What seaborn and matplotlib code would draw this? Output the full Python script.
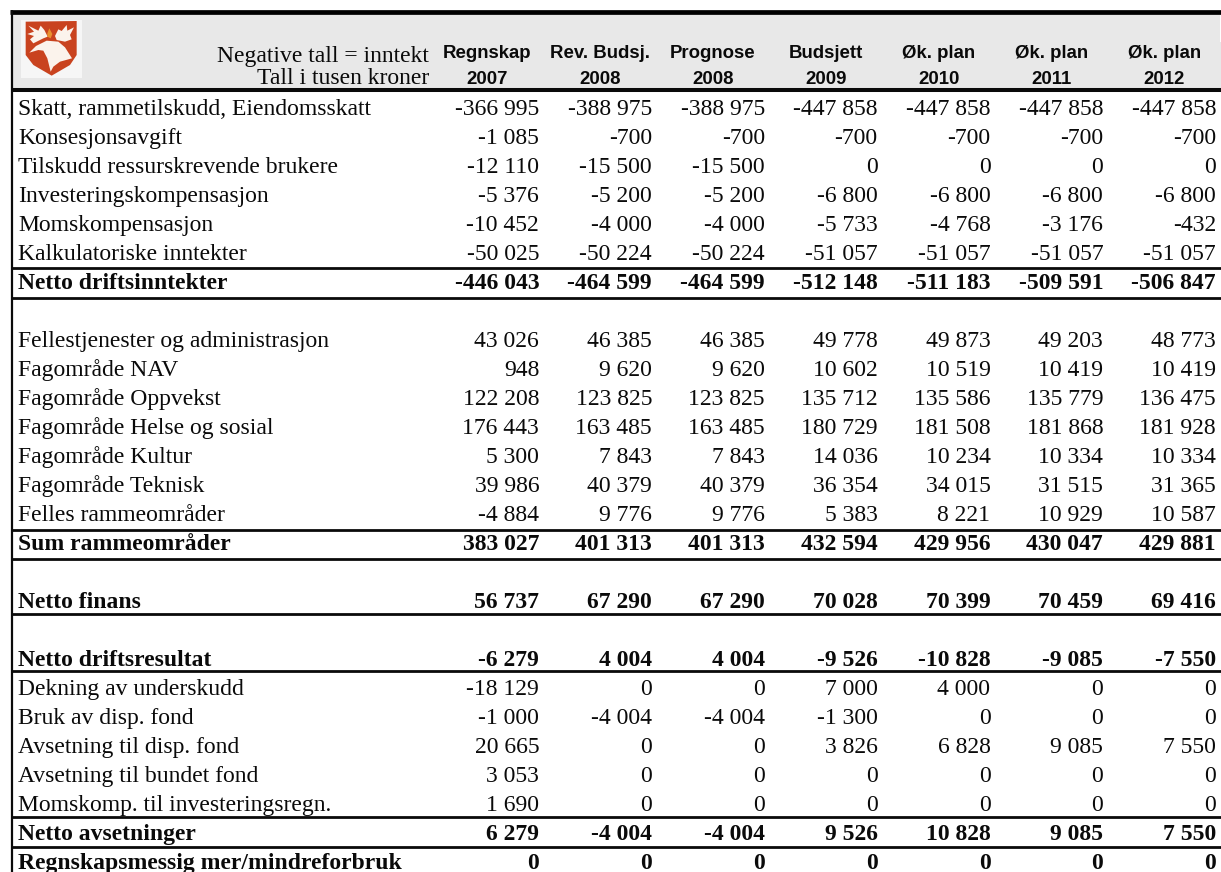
import numpy as np
import pandas as pd
import seaborn as sns
import matplotlib.pyplot as plt
from matplotlib.colors import ListedColormap
from matplotlib.patches import Polygon, Rectangle

# radene i tabellen
row_labels = [
    "Skatt, rammetilskudd, Eiendomsskatt", "Konsesjonsavgift", "Tilskudd ressurskrevende brukere",
    "Investeringskompensasjon", "Momskompensasjon", "Kalkulatoriske inntekter", "Netto driftsinntekter", "",
    "Fellestjenester og administrasjon", "Fagområde NAV", "Fagområde Oppvekst", "Fagområde Helse og sosial",
    "Fagområde Kultur", "Fagområde Teknisk", "Felles rammeområder", "Sum rammeområder", "",
    "Netto finans", "", "Netto driftsresultat", "Dekning av underskudd", "Bruk av disp. fond",
    "Avsetning til disp. fond", "Avsetning til bundet fond", "Momskomp. til investeringsregn.",
    "Netto avsetninger", "Regnskapsmessig mer/mindreforbruk",
]
bold_labels = ["Netto driftsinntekter", "Sum rammeområder", "Netto finans", "Netto driftsresultat",
               "Netto avsetninger", "Regnskapsmessig mer/mindreforbruk"]
col_labels = ["Regnskap\n2007", "Rev. Budsj.\n2008", "Prognose\n2008", "Budsjett\n2009",
              "Øk. plan\n2010", "Øk. plan\n2011", "Øk. plan\n2012"]
header_left = ["Negative tall = inntekt", "Tall i tusen kroner"]

n = np.nan
regnskap_2007 = [-366995, -1085, -12110, -5376, -10452, -50025, -446043, n, 43026, 948, 122208, 176443, 5300, 39986,
                 -4884, 383027, n, 56737, n, -6279, -18129, -1000, 20665, 3053, 1690, 6279, 0]
rev_budsj_2008 = [-388975, -700, -15500, -5200, -4000, -50224, -464599, n, 46385, 9620, 123825, 163485, 7843, 40379,
                  9776, 401313, n, 67290, n, 4004, 0, -4004, 0, 0, 0, -4004, 0]
prognose_2008 = [-388975, -700, -15500, -5200, -4000, -50224, -464599, n, 46385, 9620, 123825, 163485, 7843, 40379,
                 9776, 401313, n, 67290, n, 4004, 0, -4004, 0, 0, 0, -4004, 0]
budsjett_2009 = [-447858, -700, 0, -6800, -5733, -51057, -512148, n, 49778, 10602, 135712, 180729, 14036, 36354,
                 5383, 432594, n, 70028, n, -9526, 7000, -1300, 3826, 0, 0, 9526, 0]
plan_2010 = [-447858, -700, 0, -6800, -4768, -51057, -511183, n, 49873, 10519, 135586, 181508, 10234, 34015,
             8221, 429956, n, 70399, n, -10828, 4000, 0, 6828, 0, 0, 10828, 0]
plan_2011 = [-447858, -700, 0, -6800, -3176, -51057, -509591, n, 49203, 10419, 135779, 181868, 10334, 31515,
             10929, 430047, n, 70459, n, -9085, 0, 0, 9085, 0, 0, 9085, 0]
plan_2012 = [-447858, -700, 0, -6800, -432, -51057, -506847, n, 48773, 10419, 136475, 181928, 10334, 31365,
             10587, 429881, n, 69416, n, -7550, 0, 0, 7550, 0, 0, 7550, 0]

df = pd.DataFrame(list(zip(regnskap_2007, rev_budsj_2008, prognose_2008, budsjett_2009, plan_2010, plan_2011, plan_2012)),
                  index=range(len(row_labels)), columns=col_labels)


def fmt_tall(v):
    if np.isnan(v):
        return ""
    return f"{int(v):,}".replace(",", " ")


annot = df.map(fmt_tall)

sns.set_theme(style="white")
serif = ["Liberation Serif", "DejaVu Serif"]
sans = ["Liberation Sans", "DejaVu Sans"]
W, H = 1221, 872
GREY = "#E8E8E8"
INK = "#0A0A0A"
BODY_SIZE = 17
HEAD_SIZE = 13.4
COL_L, COL_R = 431, 1220.6
ROW_H = 29
BODY_TOP = 92.5
BASE_OFFSET = 0.27  # grunnlinje under radens midte

fig = plt.figure(figsize=(W / 100, H / 100), dpi=100, facecolor="white")


def px_axes(x0, y0, x1, y1, **kw):
    return fig.add_axes([x0 / W, 1 - y1 / H, (x1 - x0) / W, (y1 - y0) / H], **kw)


# bakgrunn i piksler: grå topp og logo
bg = px_axes(0, 0, W, H)
bg.set_xlim(0, W)
bg.set_ylim(H, 0)
bg.axis("off")
bg.add_patch(Rectangle((12, 14), 1208, 75, color=GREY, lw=0))


def logo_pts(pts):
    return [(10 + x / 3, 10 + y / 3) for x, y in pts]


bg.add_patch(Rectangle((21, 20), 61, 58, color="#F6F6F6", lw=0))
bg.add_patch(Polygon(logo_pts([(47, 35), (200, 33), (200, 135), (180, 165), (125, 197), (70, 165), (47, 135)]),
                     color="#C9431F", lw=0))
bg.add_patch(Polygon(logo_pts([(55, 47), (85, 62), (92, 47), (103, 60), (113, 80), (100, 85), (70, 100), (60, 88),
                               (72, 78), (52, 72), (72, 65)]), color="#FBF3EC", lw=0))
bg.add_patch(Polygon(logo_pts([(135, 78), (145, 58), (155, 63), (170, 45), (172, 62), (192, 52), (180, 75), (185, 88),
                               (165, 95), (140, 90)]), color="#FBF3EC", lw=0))
bg.add_patch(Polygon(logo_pts([(58, 128), (78, 108), (110, 92), (145, 95), (165, 112), (186, 145), (150, 155),
                               (130, 170), (122, 185), (112, 145), (100, 122), (85, 120)]),
                     color="#FBF3EC", lw=0))
bg.add_patch(Polygon(logo_pts([(118, 55), (127, 72), (122, 85), (112, 80), (112, 70)]), color="#E8912F", lw=0))

# overskrift
head_ax = px_axes(COL_L, 42, COL_R, 91)
sns.heatmap(pd.DataFrame([[0] * 7], columns=col_labels), ax=head_ax, cmap=ListedColormap([GREY]), cbar=False,
            annot=np.array([col_labels]), fmt="", xticklabels=False, yticklabels=False,
            annot_kws={"fontsize": HEAD_SIZE, "fontweight": "bold", "family": sans, "linespacing": 1.65})
for t in head_ax.texts:
    t.set_color(INK)

# tabellen
body_ax = px_axes(COL_L, BODY_TOP, COL_R, BODY_TOP + ROW_H * len(row_labels))
sns.heatmap(df, ax=body_ax, cmap=ListedColormap(["white"]), cbar=False, annot=annot, fmt="",
            xticklabels=False, yticklabels=False,
            annot_kws={"fontsize": BODY_SIZE, "family": serif})
col_w = (COL_R - COL_L)
for t in body_ax.texts:
    x, y = t.get_position()
    t.set_position((np.floor(x) + 1 - 4.6 / (col_w / 7), y + BASE_OFFSET))
    t.set_ha("right")
    t.set_va("baseline")
    t.set_color(INK)
    if row_labels[int(y)] in bold_labels:
        t.set_fontweight("bold")

label_x = (18 - COL_L) / (col_w / 7)
for i, lab in enumerate(row_labels):
    body_ax.text(label_x, i + 0.5 + BASE_OFFSET, lab, ha="left", va="baseline", fontsize=BODY_SIZE, family=serif,
                 color=INK, fontweight="bold" if lab in bold_labels else "normal", clip_on=False)

for txt, y in zip(header_left, [62, 84]):
    bg.text(429, y, txt, ha="right", va="baseline", fontsize=BODY_SIZE, family=serif, color=INK)

# streker
rule_ax = px_axes(0, 0, W, H)
rule_ax.set_xlim(0, W)
rule_ax.set_ylim(H, 0)
rule_ax.axis("off")
rule_ax.patch.set_alpha(0)
rule_ax.hlines(12.3, 10, 1220.6, color="black", lw=3.4)
rule_ax.hlines(90.5, 12, 1220.6, color=INK, lw=2.9)
for y in [268.2, 297.7, 529.5, 559.2, 614.3, 670.6, 816.8, 846.7]:
    rule_ax.hlines(y, 12, 1220.6, color=INK, lw=2.0)
rule_ax.vlines(12, 10, H, color=INK, lw=1.6)

fig.savefig("out.png", dpi=100)
